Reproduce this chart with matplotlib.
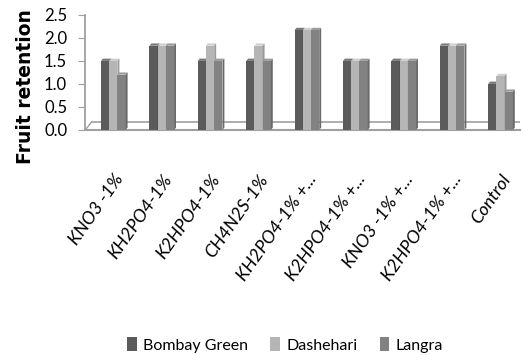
import matplotlib
matplotlib.use("Agg")
import matplotlib.pyplot as plt
from matplotlib.patches import Polygon, Patch
import numpy as np

categories = ["KNO3 -1%", "KH2PO4-1%", "K2HPO4-1%", "CH4N2S-1%", "KH2PO4-1% +...",
              "K2HPO4-1% +...", "KNO3 -1% +...", "K2HPO4-1% +...", "Control"]
bombay_green = [1.5, 1.83, 1.5, 1.5, 2.17, 1.5, 1.5, 1.83, 1.0]
dashehari = [1.5, 1.83, 1.83, 1.83, 2.17, 1.5, 1.5, 1.83, 1.17]
langra = [1.2, 1.83, 1.5, 1.5, 2.17, 1.5, 1.5, 1.83, 0.83]
series_names = ["Bombay Green", "Dashehari", "Langra"]
yticks = [0.0, 0.5, 1.0, 1.5, 2.0, 2.5]

colors = ["#5b5b5b", "#b5b5b5", "#828282"]
tops = ["#7a7a7a", "#cfcfcf", "#9c9c9c"]
sides = ["#444444", "#9a9a9a", "#6a6a6a"]

font = ["Lato", "DejaVu Sans"]

fig = plt.figure(figsize=(5.23, 3.55), dpi=100)
ax = fig.add_axes([0.163, 0.634, 0.831, 0.324])

x = np.arange(len(categories))
w = 0.17
dx, dy = 0.04, 0.05  # depth offset for the pseudo-3D faces

for i, vals in enumerate([bombay_green, dashehari, langra]):
    pos = x + (i - 1) * w
    ax.bar(pos, vals, width=w, color=colors[i], edgecolor="none", zorder=3 + i)
    for p, v in zip(pos, vals):
        xl, xr = p - w / 2, p + w / 2
        ax.add_patch(Polygon([[xl, v], [xr, v], [xr + dx, v + dy], [xl + dx, v + dy]],
                             closed=True, facecolor=tops[i], edgecolor="none", zorder=3 + i))
        ax.add_patch(Polygon([[xr, 0], [xr + dx, dy], [xr + dx, v + dy], [xr, v]],
                             closed=True, facecolor=sides[i], edgecolor="none", zorder=3 + i))

# floor of the chart
ax.plot([-0.45, 8.4], [0.17, 0.17], color="#a0a0a0", lw=1.2, zorder=1)
ax.plot([-0.58, -0.45], [0.0, 0.17], color="#a0a0a0", lw=1.0, zorder=1)

ax.set_xlim(-0.58, 8.4)
ax.set_ylim(0, 2.5)
ax.set_yticks(yticks)
ax.set_yticklabels([f"{t:.1f}" for t in yticks], fontsize=12, family=font)
ax.set_xticks(x)
ax.set_xticklabels(categories, rotation=55, ha="right", va="top", rotation_mode="anchor",
                   fontsize=13, style="italic", family=font)
ax.tick_params(axis="x", length=0, pad=30)
ax.tick_params(axis="y", length=5, color="#a0a0a0", pad=8)

for s in ["top", "right"]:
    ax.spines[s].set_visible(False)
ax.spines["left"].set_color("#a0a0a0")
ax.spines["left"].set_linewidth(1.3)
ax.spines["bottom"].set_color("#a0a0a0")
ax.spines["bottom"].set_linewidth(1.5)

fig.text(26 / 523, 1 - 87 / 355, "Fruit retention", rotation=90, ha="center", va="center",
         fontsize=13.5, fontweight="bold", family="DejaVu Sans")

handles = [Patch(facecolor=c, edgecolor="none") for c in colors]
fig.legend(handles, series_names, loc="center", bbox_to_anchor=(0.545, 0.028), ncol=3,
           frameon=False, handlelength=0.6, handleheight=0.9,
           handletextpad=0.4, columnspacing=1.4, prop={"family": font, "size": 11.5})

fig.savefig("out.png", dpi=100)
